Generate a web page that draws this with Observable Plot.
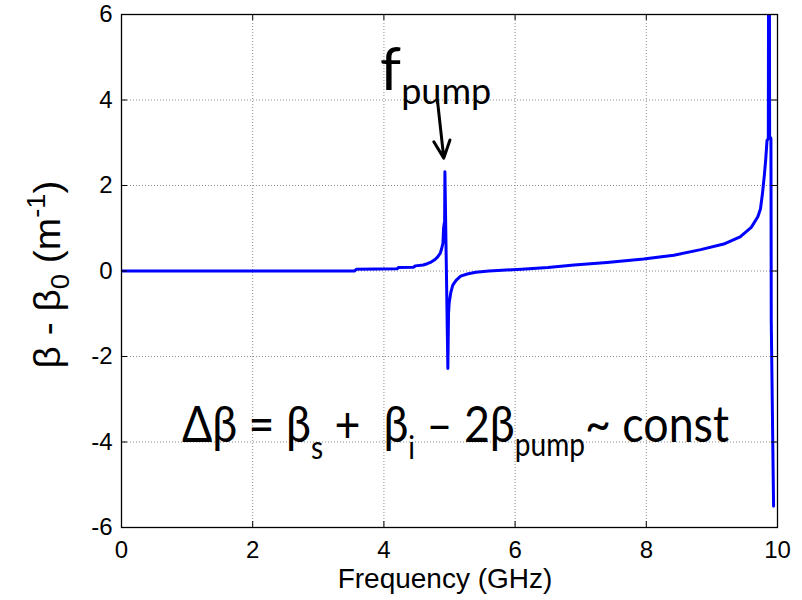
<!DOCTYPE html>
<html>
<head>
<meta charset="utf-8">
<script src="https://cdn.jsdelivr.net/npm/d3@7"></script>
<script src="https://cdn.jsdelivr.net/npm/@observablehq/plot@0.6"></script>
<style>
  html, body { margin: 0; padding: 0; background: white; }
  svg text { white-space: pre; }
</style>
</head>
<body>
<div id="chart"></div>
<script>
// ---- data ----
const freq = [0, 1, 2, 3, 3.55, 3.58, 4.2, 4.22, 4.45, 4.48, 4.6, 4.66, 4.72, 4.78, 4.82, 4.86,
  4.88, 4.9, 4.91, 4.92, 4.925, 4.93, 4.975, 4.985, 4.995, 5.02, 5.05, 5.1, 5.17, 5.27, 5.4,
  5.6, 5.8, 6.1, 6.5, 6.9, 7.4, 7.96, 8.42, 8.83, 9.18, 9.43, 9.6, 9.7, 9.74, 9.77, 9.8, 9.82,
  9.84, 9.86, 9.865, 9.875, 9.88, 9.9, 9.905, 9.94];
const beta = [0, 0, 0, 0, 0, 0.04, 0.05, 0.08, 0.09, 0.12, 0.14, 0.17, 0.21, 0.27, 0.33, 0.42,
  0.52, 0.65, 1.0, 1.12, 1.0, 2.32, -2.28, -1.0, -0.75, -0.5, -0.33, -0.22, -0.12, -0.07, -0.03,
  0, 0.02, 0.04, 0.08, 0.14, 0.2, 0.28, 0.37, 0.5, 0.63, 0.8, 1.02, 1.27, 1.45, 1.8, 2.25, 2.6,
  3.05, 3.1, 8, 8, 3.15, 3.1, -1.2, -5.5];
const xTicks = [0, 2, 4, 6, 8, 10];
const yTicks = [-6, -4, -2, 0, 2, 4, 6];
const arrowFrom = [4.817, 3.98];
const arrowTo = [4.913, 2.64];

const data = freq.map((f, i) => ({f, b: beta[i]}));

const W = 802, H = 600, mL = 121, mR = 25, mT = 14, mB = 73;
const fw = W - mL - mR, fh = H - mT - mB, tk = 6;

const plot = Plot.plot({
  width: W, height: H,
  marginLeft: mL, marginRight: mR, marginTop: mT, marginBottom: mB,
  style: {fontFamily: "Arial, 'Liberation Sans', sans-serif", fontSize: "24px", color: "black", background: "white"},
  x: {domain: [0, 10], ticks: xTicks, tickSize: 0, tickPadding: 13, tickFormat: d => String(d), label: null},
  y: {domain: [-6, 6], ticks: yTicks, tickSize: 0, tickPadding: 9, tickFormat: d => String(d), label: null},
  marks: [
    Plot.ruleX(xTicks, {x: d => d, stroke: "#8c8c8c", strokeDasharray: "1,2", strokeWidth: 1}),
    Plot.ruleY(yTicks, {y: d => d, stroke: "#8c8c8c", strokeDasharray: "1,2", strokeWidth: 1}),
    Plot.line(data, {x: "f", y: "b", stroke: "#0000ff", strokeWidth: 3, clip: true}),
    Plot.tickX(xTicks, {x: d => d, insetTop: fh - tk, stroke: "black"}),
    Plot.tickX(xTicks, {x: d => d, insetBottom: fh - tk, stroke: "black"}),
    Plot.tickY(yTicks, {y: d => d, insetRight: fw - tk, stroke: "black"}),
    Plot.tickY(yTicks, {y: d => d, insetLeft: fw - tk, stroke: "black"}),
    Plot.frame({stroke: "black", strokeWidth: 1.3}),
    Plot.arrow([{x1: arrowFrom[0], y1: arrowFrom[1], x2: arrowTo[0], y2: arrowTo[1]}],
      {x1: "x1", y1: "y1", x2: "x2", y2: "y2", stroke: "black", strokeWidth: 3, headAngle: 50, headLength: 10})
  ]
});
document.getElementById("chart").appendChild(plot);

// ---- rich-text annotations (real text with sub/superscripts) ----
const svg = d3.select(plot);
const xs = plot.scale("x"), ys = plot.scale("y");

function rich(px, py, parts, attrs) {
  const t = svg.append("text").attr("x", px).attr("y", py).attr("fill", "black")
    .attr("text-anchor", "start");
  for (const k in attrs) t.attr(k, attrs[k]);
  let prev = 0;
  for (const [txt, off, size] of parts) {
    t.append("tspan").attr("dy", off - prev).attr("font-size", size).text(txt);
    prev = off;
  }
  return t;
}

// f_pump label
rich(xs.apply(3.95), ys.apply(4.23), [["f", 0, 60], ["pump", 14, 36]],
  {"font-family": "Lato, 'Open Sans', sans-serif"});

// Δβ equation
rich(xs.apply(0.93), ys.apply(-4.02), [
  ["Δβ = β", 0, 51], ["s", 17, 32], [" +  β", 0, 51], ["i", 17, 32],
  [" – 2β", 0, 51], ["pump", 14, 32], ["~ const", 0, 51]
], {"font-family": "Lato, 'Open Sans', sans-serif", "textLength": 547, "lengthAdjust": "spacingAndGlyphs"});

// x-axis title
svg.append("text").attr("x", mL + fw / 2 - 4).attr("y", H - 12)
  .attr("text-anchor", "middle").attr("font-family", "Arial, 'Liberation Sans', sans-serif")
  .attr("font-size", 28).attr("fill", "black").text("Frequency (GHz)");

// y-axis title (rotated)
rich(0, 0, [["β - β", 0, 37], ["0", 9, 26], [" (m", 0, 37], ["-1", -15, 26], [")", 0, 37]],
  {"font-family": "Arial, 'Liberation Sans', sans-serif", "text-anchor": "middle",
   "transform": `translate(60,${mT + fh / 2 + 4}) rotate(-90)`, "textLength": 188, "lengthAdjust": "spacingAndGlyphs"});
</script>
</body>
</html>
